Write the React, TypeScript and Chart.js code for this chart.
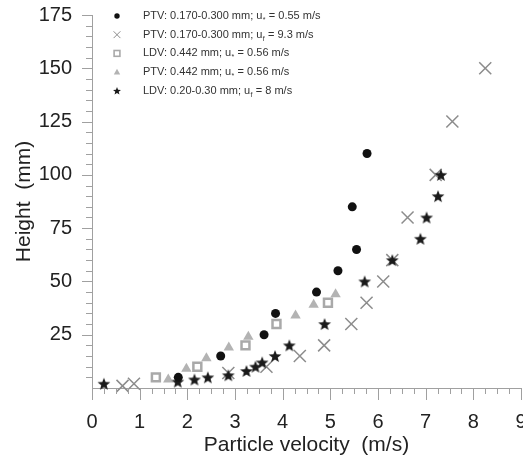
import { useEffect, useRef } from "react"
import { Chart, registerables } from "chart.js"

Chart.register(...registerables)

// PTV: 0.170-0.300 mm; u* = 0.55 m/s  (filled circles)
const ptvFineX = [1.81, 2.7, 3.61, 3.85, 4.71, 5.16, 5.55, 5.46, 5.77]
const ptvFineY = [5, 15, 25, 35, 45, 55, 65, 85, 110]

// PTV: 0.170-0.300 mm; uf = 9.3 m/s  (crosses)
const ptvFreeX = [0.64, 0.88, 2.86, 3.66, 4.36, 4.87, 5.44, 5.76, 6.11, 6.3, 6.62, 7.21, 7.56, 8.25]
const ptvFreeY = [1, 2, 7, 10, 15, 20, 30, 40, 50, 60, 80, 100, 125, 150]

// LDV: 0.442 mm; u* = 0.56 m/s  (hollow squares)
const ldvCoarseX = [1.34, 2.21, 3.22, 3.87, 4.95]
const ldvCoarseY = [5, 10, 20, 30, 40]

// PTV: 0.442 mm; u* = 0.56 m/s  (triangles)
const ptvCoarseX = [1.6, 1.98, 2.4, 2.87, 3.28, 4.27, 4.65, 5.11]
const ptvCoarseY = [4, 9, 14, 19, 24, 34, 39, 44]

// LDV: 0.20-0.30 mm; uf = 8 m/s  (stars)
const ldvFineX = [0.25, 1.8, 2.15, 2.43, 2.86, 3.24, 3.43, 3.57, 3.84, 4.14, 4.88, 5.72, 6.3, 6.89, 7.02, 7.26, 7.32]
const ldvFineY = [2, 3, 4, 5, 6, 8, 10, 12, 15, 20, 30, 50, 60, 70, 80, 90, 100]

const legendHeads = [
  "PTV: 0.170-0.300 mm; u",
  "PTV: 0.170-0.300 mm; u",
  "LDV: 0.442 mm; u",
  "PTV: 0.442 mm; u",
  "LDV: 0.20-0.30 mm; u",
]
const legendSubs = ["*", "f", "*", "*", "f"]
const legendTails = [" = 0.55 m/s", " = 9.3 m/s", " = 0.56 m/s", " = 0.56 m/s", " = 8 m/s"]
const legendMarkers = ["circle", "cross", "square", "triangle", "star"]

const FONT = "'Liberation Sans', Arial, sans-serif"
const AXIS = "#a0a0a0"
const TEXT = "#222"
const C_CIRCLE = "#111"
const C_CROSS = "#8c8c8c"
const C_SQUARE = "#a9a9a9"
const C_TRI = "#b3b3b3"
const C_STAR = "#1a1a1a"

const toPoints = (xs: number[], ys: number[]) => xs.map((x, i) => ({ x, y: ys[i] }))

function starPath(ctx: CanvasRenderingContext2D, cx: number, cy: number, outer: number, inner: number) {
  ctx.beginPath()
  for (let i = 0; i < 10; i++) {
    const r = i % 2 === 0 ? outer : inner
    const a = -Math.PI / 2 + (i * Math.PI) / 5
    const px = cx + r * Math.cos(a)
    const py = cy + r * Math.sin(a)
    if (i === 0) ctx.moveTo(px, py)
    else ctx.lineTo(px, py)
  }
  ctx.closePath()
}

function makeStar(outer: number, color: string) {
  const size = Math.ceil(outer * 2 + 2)
  const c = document.createElement("canvas")
  c.width = size
  c.height = size
  const g = c.getContext("2d")!
  g.fillStyle = color
  starPath(g, size / 2, size / 2 + 0.6, outer, outer * 0.42)
  g.fill()
  return c
}

function drawMarker(ctx: CanvasRenderingContext2D, kind: string, x: number, y: number) {
  ctx.save()
  if (kind === "circle") {
    ctx.fillStyle = C_CIRCLE
    ctx.beginPath()
    ctx.arc(x, y, 2.7, 0, Math.PI * 2)
    ctx.fill()
  } else if (kind === "cross") {
    ctx.strokeStyle = C_CROSS
    ctx.lineWidth = 1
    ctx.beginPath()
    ctx.moveTo(x - 3.4, y - 3.4)
    ctx.lineTo(x + 3.4, y + 3.4)
    ctx.moveTo(x + 3.4, y - 3.4)
    ctx.lineTo(x - 3.4, y + 3.4)
    ctx.stroke()
  } else if (kind === "square") {
    ctx.strokeStyle = C_SQUARE
    ctx.lineWidth = 1.6
    ctx.strokeRect(x - 2.9, y - 2.9, 5.8, 5.8)
  } else if (kind === "triangle") {
    ctx.fillStyle = C_TRI
    ctx.beginPath()
    ctx.moveTo(x, y - 3.4)
    ctx.lineTo(x + 3.2, y + 2.4)
    ctx.lineTo(x - 3.2, y + 2.4)
    ctx.closePath()
    ctx.fill()
  } else {
    ctx.fillStyle = C_STAR
    starPath(ctx, x, y + 0.4, 4.2, 1.8)
    ctx.fill()
  }
  ctx.restore()
}

// minor/major tick marks on the left and bottom axes
const ticksPlugin = {
  id: "axisTicks",
  afterDraw(chart: any) {
    const { ctx, scales } = chart
    const xs = scales.x
    const ys = scales.y
    const bottom = chart.chartArea.bottom
    const left = chart.chartArea.left
    ctx.save()
    ctx.strokeStyle = AXIS
    ctx.lineWidth = 1
    ctx.beginPath()
    for (let i = 0; i <= 36; i++) {
      const v = i * 0.25
      const px = Math.round(xs.getPixelForValue(v)) + 0.5
      const len = i % 4 === 0 ? 12 : 6
      ctx.moveTo(px, bottom)
      ctx.lineTo(px, bottom + len)
    }
    for (let i = 1; i <= 35; i++) {
      const v = i * 5
      const py = Math.round(ys.getPixelForValue(v)) + 0.5
      const len = i % 5 === 0 ? 10 : 6
      ctx.moveTo(left, py)
      ctx.lineTo(left - len, py)
    }
    ctx.stroke()
    ctx.restore()
  },
}

const legendPlugin = {
  id: "innerLegend",
  afterDraw(chart: any) {
    const ctx: CanvasRenderingContext2D = chart.ctx
    ctx.save()
    ctx.textBaseline = "middle"
    ctx.fillStyle = "#333"
    legendHeads.forEach((head, i) => {
      const y = 16 + i * 18.7
      drawMarker(ctx, legendMarkers[i], 117, y)
      let x = 143
      ctx.font = `11px ${FONT}`
      ctx.fillText(head, x, y)
      x += ctx.measureText(head).width
      ctx.font = `7px ${FONT}`
      ctx.fillText(legendSubs[i], x + 0.3, y + 4)
      x += ctx.measureText(legendSubs[i]).width + 0.6
      ctx.font = `11px ${FONT}`
      ctx.fillText(legendTails[i], x, y)
    })
    ctx.restore()
  },
}

export default function App() {
  const canvasRef = useRef<HTMLCanvasElement>(null)
  const chartRef = useRef<Chart | null>(null)

  useEffect(() => {
    if (!canvasRef.current) return
    const ctx = canvasRef.current.getContext("2d")
    if (!ctx) return

    const star = makeStar(6.7, C_STAR)

    chartRef.current = new Chart(ctx, {
      type: "scatter",
      data: {
        datasets: [
          {
            label: "PTV: 0.170-0.300 mm; u* = 0.55 m/s",
            data: toPoints(ptvFineX, ptvFineY),
            pointStyle: "circle",
            pointRadius: 4.5,
            backgroundColor: C_CIRCLE,
            borderColor: C_CIRCLE,
            borderWidth: 0,
            clip: false,
          },
          {
            label: "LDV: 0.20-0.30 mm; uf = 8 m/s",
            data: toPoints(ldvFineX, ldvFineY),
            pointStyle: star,
            pointRadius: 6,
            backgroundColor: C_STAR,
            borderColor: C_STAR,
            clip: false,
          },
          {
            label: "PTV: 0.170-0.300 mm; uf = 9.3 m/s",
            data: toPoints(ptvFreeX, ptvFreeY),
            pointStyle: "crossRot",
            pointRadius: 8.5,
            borderColor: C_CROSS,
            backgroundColor: C_CROSS,
            borderWidth: 1.5,
            clip: false,
          },
          {
            label: "LDV: 0.442 mm; u* = 0.56 m/s",
            data: toPoints(ldvCoarseX, ldvCoarseY),
            pointStyle: "rect",
            pointRadius: 5.6,
            borderColor: C_SQUARE,
            backgroundColor: "rgba(255,255,255,0)",
            borderWidth: 2.5,
            clip: false,
          },
          {
            label: "PTV: 0.442 mm; u* = 0.56 m/s",
            data: toPoints(ptvCoarseX, ptvCoarseY),
            pointStyle: "triangle",
            pointRadius: 6,
            backgroundColor: C_TRI,
            borderColor: C_TRI,
            borderWidth: 0,
            clip: false,
          },
        ],
      },
      options: {
        animation: false,
        responsive: false,
        events: [],
        layout: { padding: { top: 15, right: 19, bottom: 0, left: 0 } },
        plugins: {
          legend: { display: false },
          tooltip: { enabled: false },
        },
        scales: {
          x: {
            type: "linear",
            min: 0,
            max: 9,
            afterFit: (scale: any) => {
              scale.height = 73
              scale.paddingLeft = 0
              scale.paddingRight = 0
            },
            ticks: {
              stepSize: 1,
              maxRotation: 0,
              padding: 12,
              color: TEXT,
              font: { family: FONT, size: 20 },
            },
            grid: { display: true, drawOnChartArea: false, drawTicks: true, tickLength: 10, color: "rgba(0,0,0,0)" },
            border: { display: true, color: AXIS, width: 1 },
            title: {
              display: true,
              text: "Particle velocity  (m/s)",
              color: TEXT,
              font: { family: FONT, size: 21 },
              padding: { top: 0, bottom: 3 },
            },
          },
          y: {
            type: "linear",
            min: 0,
            max: 175,
            afterFit: (scale: any) => {
              scale.width = 92
              scale.paddingTop = 0
              scale.paddingBottom = 0
            },
            ticks: {
              stepSize: 25,
              padding: 10,
              color: TEXT,
              font: { family: FONT, size: 20 },
              callback: (v: any) => (v === 0 ? "" : String(v)),
            },
            grid: { display: true, drawOnChartArea: false, drawTicks: true, tickLength: 10, color: "rgba(0,0,0,0)" },
            border: { display: true, color: AXIS, width: 1 },
            title: {
              display: true,
              text: "Height  (mm)",
              color: TEXT,
              font: { family: FONT, size: 21 },
              padding: { top: 12, bottom: 0 },
            },
          },
        },
      },
      plugins: [ticksPlugin, legendPlugin],
    })

    return () => {
      if (chartRef.current) {
        chartRef.current.destroy()
        chartRef.current = null
      }
    }
  }, [])

  return (
    <div
      style={{
        position: "fixed",
        left: 0,
        top: 0,
        width: 523,
        height: 461,
        overflow: "hidden",
        background: "#fff",
      }}
    >
      <canvas ref={canvasRef} width={540} height={461} style={{ display: "block" }} />
    </div>
  )
}
